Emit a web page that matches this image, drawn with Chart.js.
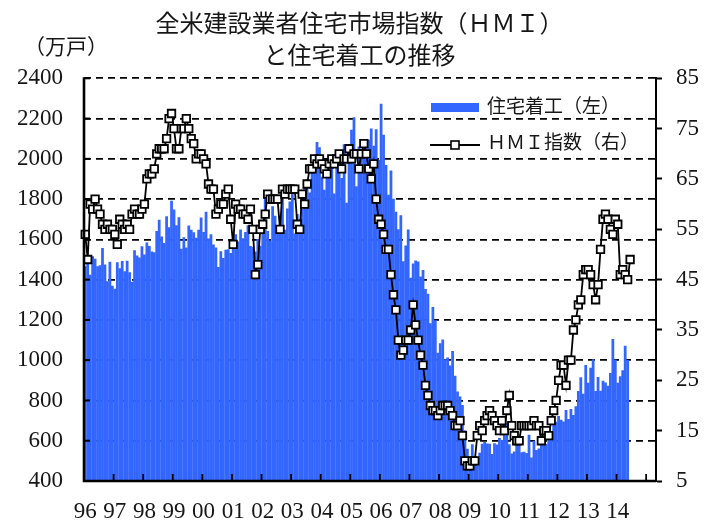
<!DOCTYPE html>
<html>
<head>
<meta charset="utf-8">
<script src="https://cdn.jsdelivr.net/npm/chart.js@4.4.1/dist/chart.umd.min.js"></script>
<style>
  html, body { margin: 0; padding: 0; background: #ffffff; }
  #wrap { width: 719px; height: 522px; }
</style>
</head>
<body>
<div id="wrap"><canvas id="chart" width="719" height="522"></canvas></div>
<script>
// Monthly axis: Jan 1996 through Apr 2015
const firstYear = 1996;
const monthCount = 232;

// Year labels shown under the axis (at each January)
const yearLabels = ['96','97','98','99','00','01','02','03','04','05','06','07','08','09','10','11','12','13','14'];

// Left-axis ticks (万戸) and right-axis ticks (index)
const startsTicks = [400, 600, 800, 1000, 1200, 1400, 1600, 1800, 2000, 2200, 2400];
const hmiTicks = [5, 15, 25, 35, 45, 55, 65, 75, 85];

// Housing starts, monthly, Jan 1996 - May 2014
const housingStarts = [
  1467, 1491, 1424, 1516, 1504, 1467, 1472, 1557, 1475, 1392, 1489, 1370,
  1355, 1486, 1457, 1492, 1442, 1494, 1437, 1390, 1546, 1520, 1510, 1566,
  1525, 1584, 1567, 1540, 1536, 1641, 1698, 1614, 1582, 1715, 1660, 1792,
  1748, 1670, 1710, 1553, 1611, 1559, 1669, 1648, 1635, 1608, 1648, 1708,
  1636, 1737, 1604, 1626, 1575, 1559, 1463, 1541, 1507, 1549, 1551, 1532,
  1600, 1625, 1590, 1649, 1605, 1636, 1670, 1567, 1562, 1540, 1602, 1568,
  1698, 1829, 1642, 1592, 1764, 1717, 1655, 1633, 1804, 1648, 1753, 1788,
  1853, 1629, 1726, 1643, 1751, 1867, 1897, 1833, 1939, 1967, 2083, 2057,
  1911, 1846, 1998, 2003, 1981, 1828, 2002, 2024, 1905, 2072, 1782, 2042,
  2144, 2207, 1864, 2061, 2025, 2068, 2054, 2095, 2151, 2065, 2147, 1994,
  2273, 2119, 1969, 1821, 1942, 1802, 1737, 1650, 1720, 1491, 1570, 1649,
  1409, 1480, 1495, 1490, 1415, 1448, 1354, 1330, 1183, 1264, 1197, 1037,
  1084, 1103, 1005, 1013, 973, 1046, 923, 844, 820, 777, 652, 560,
  490, 582, 505, 478, 540, 585, 594, 586, 585, 534, 588, 581,
  614, 604, 636, 687, 583, 536, 546, 599, 594, 543, 545, 539,
  630, 517, 600, 554, 561, 608, 623, 585, 650, 610, 711, 694,
  723, 704, 695, 753, 708, 757, 728, 771, 847, 915, 833, 976,
  888, 962, 1005, 847, 917, 848, 898, 889, 873, 936, 1105, 1003,
  888, 920, 950, 1072, 1001
];

// NAHB housing market index, monthly, Jan 1996 - Jun 2014
const hmiIndex = [
  54, 49, 60, 59, 61, 59, 58, 56, 55, 56, 55, 55,
  54, 52, 57, 56, 55, 56, 55, 58, 59, 58, 58, 59,
  60, 65, 66, 66, 67, 70, 71, 71, 71, 73, 77, 78,
  75, 71, 71, 75, 75, 77, 75, 73, 72, 69, 70, 70,
  69, 68, 64, 63, 63, 58, 59, 60, 60, 62, 63, 57,
  52, 60, 59, 59, 58, 58, 57, 59, 55, 46, 48, 55,
  56, 58, 62, 61, 61, 61, 61, 55, 63, 62, 63, 63,
  63, 63, 56, 55, 62, 60, 64, 67, 67, 69, 68, 69,
  68, 67, 66, 68, 69, 68, 69, 70, 67, 69, 69, 71,
  69, 70, 70, 67, 70, 72, 70, 67, 65, 68, 61, 57,
  56, 54, 51, 51, 46, 42, 39, 33, 30, 31, 33, 33,
  35, 40, 36, 33, 30, 28, 24, 22, 20, 19, 19, 18,
  19, 20, 20, 20, 19, 18, 16, 16, 17, 14, 9, 8,
  8, 9, 9, 14, 16, 15, 17, 18, 19, 18, 17, 16,
  15, 17, 15, 19, 22, 16, 14, 13, 13, 16, 16, 16,
  16, 16, 17, 16, 16, 13, 15, 15, 14, 17, 19, 21,
  25, 28, 28, 24, 29, 29, 35, 37, 40, 41, 46, 47,
  47, 46, 44, 41, 44, 51, 57, 58, 57, 55, 54, 57,
  56, 46, 47, 46, 45, 49
];

const titleLines = ['全米建設業者住宅市場指数（ＨＭＩ）', 'と住宅着工の推移'];
const unitLabel = '（万戸）';
const startsLabel = '住宅着工（左）';
const hmiLabel = 'ＨＭＩ指数（右）';

const months = [];
for (let i = 0; i < monthCount; i++) {
  const y = firstYear + Math.floor(i / 12);
  const m = (i % 12) + 1;
  months.push(y + '-' + (m < 10 ? '0' + m : m));
}
const pad = (arr) => months.map((_, i) => (i < arr.length ? arr[i] : null));

const SERIF = "'Liberation Serif', 'DejaVu Serif', serif";
const JP = "'Liberation Serif', 'Noto Sans CJK JP', sans-serif";
const INK = '#161616';
const BAR_BLUE = '#3366ff';

// Axis lines, inward tick marks, unit caption and legend
const framePlugin = {
  id: 'frame',
  afterDatasetsDraw(chart) {
    const { ctx, chartArea: a, scales } = chart;
    ctx.save();
    ctx.strokeStyle = '#000';
    ctx.lineCap = 'butt';

    // inward ticks on the left axis
    ctx.lineWidth = 2;
    startsTicks.forEach(v => {
      const y = scales.y.getPixelForValue(v);
      ctx.beginPath();
      ctx.moveTo(a.left, y);
      ctx.lineTo(a.left + 6, y);
      ctx.stroke();
    });

    // inward year ticks on the bottom axis
    const step = scales.x.getPixelForValue(1) - scales.x.getPixelForValue(0);
    ctx.lineWidth = 1.8;
    for (let i = 12; i < months.length; i += 12) {
      const x = scales.x.getPixelForValue(i) - step / 2;
      ctx.beginPath();
      ctx.moveTo(x, a.bottom);
      ctx.lineTo(x, a.bottom - 7);
      ctx.stroke();
    }

    // left and bottom axis lines
    ctx.lineWidth = 2.6;
    ctx.beginPath();
    ctx.moveTo(a.left, a.top - 1);
    ctx.lineTo(a.left, a.bottom);
    ctx.lineTo(a.right, a.bottom);
    ctx.stroke();
    ctx.restore();
  },
  afterDraw(chart) {
    const { ctx } = chart;
    const ds = chart.data.datasets;
    ctx.save();
    ctx.fillStyle = INK;
    ctx.textBaseline = 'middle';

    // unit caption above the left axis
    ctx.font = '21px ' + JP;
    ctx.textAlign = 'center';
    ctx.fillText(unitLabel, 66, 48);

    // legend
    const bars = ds.find(d => d.type === 'bar');
    const line = ds.find(d => d.type === 'line');
    ctx.fillStyle = bars.backgroundColor;
    ctx.fillRect(431, 103, 48, 9);
    ctx.strokeStyle = line.borderColor;
    ctx.lineWidth = 2;
    ctx.beginPath();
    ctx.moveTo(430, 145);
    ctx.lineTo(480, 145);
    ctx.stroke();
    ctx.fillStyle = '#fff';
    ctx.lineWidth = 1.6;
    ctx.fillRect(451, 141, 8, 8);
    ctx.strokeRect(451, 141, 8, 8);

    ctx.fillStyle = INK;
    ctx.textAlign = 'left';
    ctx.font = '19px ' + JP;
    ctx.fillText(bars.label, 487, 108);
    ctx.fillText(line.label, 487, 144);
    ctx.restore();
  }
};

new Chart(document.getElementById('chart'), {
  type: 'bar',
  data: {
    labels: months,
    datasets: [
      {
        type: 'line',
        label: hmiLabel,
        data: pad(hmiIndex),
        yAxisID: 'y1',
        borderColor: '#000',
        borderWidth: 1.8,
        pointStyle: 'rect',
        pointRadius: 5.3,
        pointBorderWidth: 1.8,
        pointBackgroundColor: '#fff',
        pointBorderColor: '#000',
        tension: 0,
        order: 0
      },
      {
        type: 'bar',
        label: startsLabel,
        data: pad(housingStarts),
        yAxisID: 'y',
        base: 400,
        backgroundColor: BAR_BLUE,
        borderWidth: 0,
        barPercentage: 1.12,
        categoryPercentage: 1,
        order: 1
      }
    ]
  },
  options: {
    responsive: false,
    animation: false,
    events: [],
    layout: { padding: 0 },
    plugins: {
      legend: { display: false },
      tooltip: { enabled: false },
      title: {
        display: true,
        text: titleLines,
        color: INK,
        font: { family: JP, size: 24, weight: 'normal', lineHeight: 1.36 },
        padding: { top: 9, bottom: 4 }
      }
    },
    scales: {
      x: {
        type: 'category',
        offset: true,
        grid: { display: false },
        border: { display: false },
        ticks: {
          autoSkip: false,
          maxRotation: 0,
          minRotation: 0,
          padding: 9,
          color: INK,
          font: { family: SERIF, size: 23 },
          callback: (v, i) => (i % 12 === 0 ? (yearLabels[i / 12] || '') : '')
        },
        afterFit: s => { s.height = 41; }
      },
      y: {
        position: 'left',
        min: 400,
        max: 2400,
        ticks: {
          stepSize: 200,
          padding: 21,
          color: INK,
          font: { family: SERIF, size: 23 },
          callback: v => String(v)
        },
        grid: { color: '#000', lineWidth: 1.7, drawTicks: false },
        border: { display: false, dash: [7, 5] },
        afterFit: s => { s.width = 84; }
      },
      y1: {
        position: 'right',
        min: 5,
        max: 85,
        ticks: {
          stepSize: 10,
          padding: 14,
          color: INK,
          font: { family: SERIF, size: 23 },
          callback: v => String(v)
        },
        grid: { drawOnChartArea: false, drawTicks: true, tickLength: 6, tickColor: '#000', tickWidth: 2 },
        border: { display: true, color: '#000', width: 2 },
        afterFit: s => { s.width = 63; }
      }
    }
  },
  plugins: [framePlugin]
});
</script>
</body>
</html>
